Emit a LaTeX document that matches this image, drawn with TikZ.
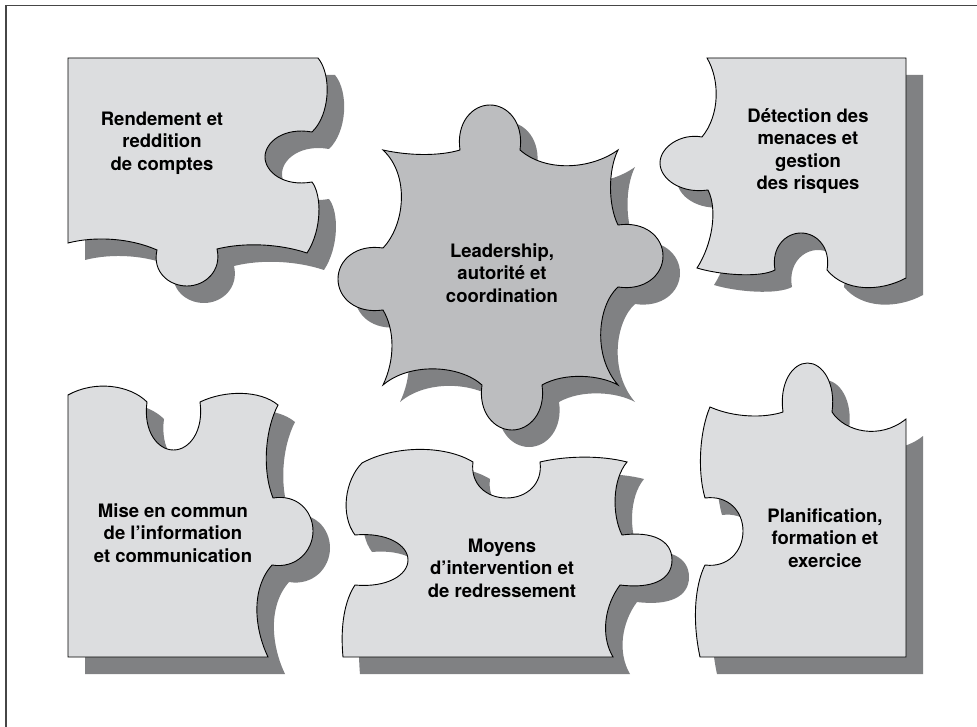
\documentclass[tikz,border=0pt]{standalone}
\usepackage{fontspec}
\setmainfont{TeX Gyre Heros}
\definecolor{lightp}{RGB}{220,221,223}
\definecolor{darkp}{RGB}{188,189,191}
\definecolor{shad}{RGB}{128,129,131}
\definecolor{framec}{RGB}{70,70,70}
\tikzset{
  shadowfill/.style={fill=shad, shift={(17,17)}},
  piecelight/.style={fill=lightp, draw=black, line width=0.9},
  piecedark/.style={fill=darkp, draw=black, line width=0.9},
  lbl/.style={font=\fontsize{18.5}{22.5}\selectfont\bfseries, align=center, inner sep=0pt},
}
\def\pA{(68,58) -- (318,58)
 .. controls (332,75) and (330,115) .. (312,132)
 .. controls (284,127) and (265,142) .. (265,157)
 .. controls (265,172) and (284,187) .. (312,182)
 .. controls (322,195) and (322,230) .. (307,253)
 .. controls (280,244) and (245,242) .. (217,249)
 .. controls (222,271) and (205,286) .. (187,286)
 .. controls (169,286) and (152,272) .. (157,250)
 .. controls (130,238) and (95,236) .. (68,243) -- cycle}
\def\pB{(383,150) .. controls (410,156) and (440,156) .. (460,150)
 .. controls (456,123) and (472,105) .. (490,105)
 .. controls (508,105) and (524,123) .. (520,150)
 .. controls (545,172) and (590,170) .. (618,150)
 .. controls (608,170) and (608,205) .. (618,225)
 .. controls (645,221) and (663,237) .. (663,256)
 .. controls (663,275) and (645,291) .. (618,287)
 .. controls (598,305) and (592,355) .. (618,385)
 .. controls (600,375) and (565,372) .. (542,385)
 .. controls (546,412) and (530,430) .. (512,430)
 .. controls (494,430) and (478,412) .. (482,385)
 .. controls (460,365) and (410,362) .. (383,385)
 .. controls (395,360) and (395,330) .. (383,310)
 .. controls (356,314) and (338,298) .. (338,279)
 .. controls (338,260) and (356,244) .. (383,248)
 .. controls (405,225) and (410,175) .. (383,150) -- cycle}
\def\pC{(707,58) -- (906,58) -- (906,278)
 .. controls (880,292) and (845,292) .. (827,270)
 .. controls (831,248) and (817,233) .. (801,233)
 .. controls (785,233) and (771,248) .. (775,270)
 .. controls (760,278) and (720,275) .. (697,268)
 .. controls (712,245) and (718,210) .. (708,190)
 .. controls (681,194) and (660,179) .. (660,163)
 .. controls (660,147) and (681,133) .. (702,137)
 .. controls (720,115) and (720,80) .. (707,58) -- cycle}
\def\pD{(68,395) .. controls (95,380) and (130,385) .. (147,402)
 .. controls (143,431) and (157.5,450) .. (173.5,450)
 .. controls (189.5,450) and (204,431) .. (200,402)
 .. controls (225,390) and (260,390) .. (278,405)
 .. controls (265,430) and (262,470) .. (273,498)
 .. controls (297,494) and (313,511) .. (313,531)
 .. controls (313,551) and (296,569) .. (272,565)
 .. controls (250,590) and (255,630) .. (268,657)
 -- (68,657) -- cycle}
\def\pE{(362,463) .. controls (395,445) and (445,445) .. (473,462)
 .. controls (470,484) and (486.5,498) .. (506.5,498)
 .. controls (526.5,498) and (543,484) .. (540,462)
 .. controls (565,456) and (600,455) .. (627,462)
 .. controls (612,480) and (612,515) .. (622,535)
 .. controls (652,531) and (672,540) .. (672,560)
 .. controls (672,580) and (652,589) .. (620,585)
 .. controls (605,605) and (600,635) .. (613,657)
 -- (343,657)
 .. controls (340,625) and (345,600) .. (355,585)
 .. controls (387,588) and (408,575) .. (408,560)
 .. controls (408,545) and (387,532) .. (355,535)
 .. controls (340,515) and (345,480) .. (362,463) -- cycle}
\def\pF{(710,407) .. controls (735,418) and (765,418) .. (783,412)
 .. controls (779,383) and (792.5,363) .. (807.5,363)
 .. controls (822.5,363) and (836,383) .. (832,412)
 .. controls (845,432) and (880,440) .. (906,419)
 -- (906,657) -- (700,657)
 .. controls (692,620) and (695,585) .. (705,565)
 .. controls (728,568) and (743,551) .. (743,531)
 .. controls (743,511) and (728,495) .. (705,498)
 .. controls (697,470) and (700,430) .. (710,407) -- cycle}
\begin{document}
\begin{tikzpicture}[x=1pt,y=-1pt]
\useasboundingbox (0,0) rectangle (977,727);
\fill[white] (0,0) rectangle (977,727);
% frame
\draw[framec, line width=1.5] (6,727) -- (6,5.5) -- (977,5.5);
% shadows
\fill[shadowfill] \pA;
\fill[shadowfill] \pB;
\fill[shadowfill] \pC;
\fill[shadowfill] \pD;
\fill[shadowfill] \pE;
\fill[shadowfill] \pF;
% pieces
\path[piecelight] \pA;
\path[piecedark] \pB;
\path[piecelight] \pC;
\path[piecelight] \pD;
\path[piecelight] \pE;
\path[piecelight] \pF;
% labels
\node[lbl] (tA) at (162,143) {Rendement et\\reddition\\de comptes};
\node[lbl] (tB) at (502,273) {Leadership,\\autorité et\\coordination};
\node[lbl] (tC) at (808,151) {Détection des\\menaces et\\gestion\\des risques};
\node[lbl] (tD) at (173,533) {Mise en commun\\de l’information\\et communication};
\node[lbl] (tE) at (502,568) {Moyens\\d’intervention et\\de redressement};
\node[lbl] (tF) at (825,538) {Planification,\\formation et\\exercice};
\end{tikzpicture}
\end{document}
